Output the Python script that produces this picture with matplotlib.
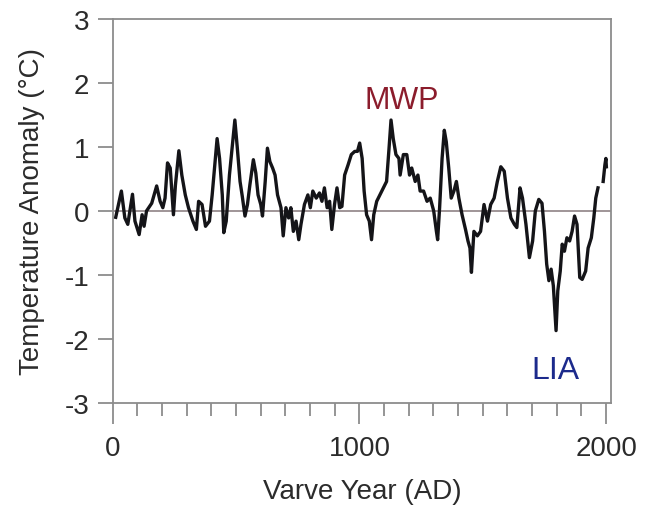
import matplotlib
matplotlib.use("Agg")
import matplotlib.pyplot as plt
import numpy as np

plt.rcParams['font.family'] = ['Liberation Sans', 'DejaVu Sans']
plt.rcParams['axes.unicode_minus'] = False

# varve temperature reconstruction
years = [12, 35, 49, 61, 80, 90, 107, 119, 127, 137, 158, 178, 192, 203, 212,
         222, 233, 246, 254, 268, 280, 294, 307, 325, 339, 348, 362, 376, 392,
         403, 423, 433, 444, 450, 460, 473, 485, 495, 505, 516, 525, 536, 546,
         556, 570, 580, 589, 600, 607, 618, 627, 637, 648, 658, 668, 682, 691,
         702, 713, 722, 732, 743, 754, 763, 777, 791, 801, 811, 825, 838, 848,
         858, 869, 879, 888, 899, 909, 920, 929, 940, 954, 967, 981, 992, 1001,
         1011, 1019, 1029, 1040, 1049, 1058, 1070, 1083, 1097, 1110, 1120, 1128,
         1137, 1148, 1160, 1165, 1178, 1192, 1203, 1212, 1226, 1237, 1246, 1260,
         1274, 1287, 1301, 1312, 1317, 1325, 1335, 1344, 1352, 1362, 1372, 1383,
         1393, 1403, 1416, 1430, 1440, 1448, 1454, 1464, 1478, 1491, 1505, 1519,
         1532, 1546, 1559, 1573, 1587, 1600, 1614, 1628, 1638, 1651, 1661, 1675,
         1689, 1702, 1713, 1727, 1740, 1750, 1759, 1768, 1777, 1786, 1797, 1804,
         1814, 1822, 1831, 1841, 1852, 1862, 1872, 1882, 1893, 1903, 1917, 1927,
         1940, 1950, 1958, 1967]
anomaly = [-0.1, 0.31, -0.11, -0.21, 0.26, -0.16, -0.37, -0.06, -0.24, 0.0,
           0.12, 0.39, 0.15, 0.05, 0.2, 0.75, 0.67, -0.06, 0.4, 0.94, 0.56,
           0.25, 0.05, -0.16, -0.29, 0.15, 0.1, -0.24, -0.16, 0.25, 1.13, 0.82,
           0.25, -0.34, -0.16, 0.56, 1.03, 1.42, 0.98, 0.46, 0.23, -0.08, 0.1,
           0.41, 0.8, 0.59, 0.25, 0.1, -0.08, 0.46, 0.98, 0.77, 0.67, 0.56, 0.25,
           0.05, -0.39, 0.05, -0.11, 0.05, -0.32, -0.16, -0.45, -0.21, 0.1, 0.25,
           0.05, 0.31, 0.2, 0.28, 0.15, 0.36, 0.05, 0.15, -0.29, 0.1, 0.36, 0.05,
           0.07, 0.56, 0.72, 0.88, 0.93, 0.93, 1.06, 0.82, 0.31, -0.06, -0.16,
           -0.45, -0.06, 0.15, 0.25, 0.36, 0.46, 0.98, 1.42, 1.13, 0.88, 0.82,
           0.56, 0.88, 0.88, 0.56, 0.67, 0.46, 0.56, 0.31, 0.31, 0.15, 0.2, 0.0,
           -0.32, -0.45, 0.05, 0.82, 1.26, 1.08, 0.67, 0.2, 0.31, 0.46, 0.2,
           -0.06, -0.29, -0.47, -0.58, -0.96, -0.32, -0.39, -0.32, 0.1, -0.16,
           0.1, 0.2, 0.46, 0.69, 0.62, 0.2, -0.11, -0.21, -0.26, 0.36, 0.2,
           -0.21, -0.73, -0.47, 0.0, 0.18, 0.12, -0.32, -0.83, -1.09, -0.91,
           -1.17, -1.87, -1.25, -0.94, -0.52, -0.63, -0.42, -0.47, -0.32, -0.08,
           -0.21, -1.04, -1.07, -0.94, -0.58, -0.42, -0.11, 0.2, 0.36]

# short recent piece after the gap
years_recent = [1988, 1995, 1999, 2001]
anomaly_recent = [0.46, 0.72, 0.82, 0.69]

fig = plt.figure(figsize=(6.48, 5.10), dpi=100)
ax = fig.add_axes([0.174, 0.208, 0.769, 0.753])

ax.axhline(0, color='#85787a', lw=1.1, zorder=1)
ax.plot(years, anomaly, color='#141418', lw=2.4, zorder=2)
ax.plot(years_recent, anomaly_recent, color='#141418', lw=2.4, zorder=2)

ax.set_xlim(0, 2020)
ax.set_ylim(-3, 3)
ax.set_xticks([0, 1000, 2000])
ax.set_xticks(np.arange(0, 2001, 100), minor=True)
ax.set_yticks(range(-3, 4))

for s in ax.spines.values():
    s.set_color('#8c8c8c')
    s.set_linewidth(1.3)
ax.tick_params(axis='x', which='major', length=15, width=1.3, color='#8c8c8c',
               labelsize=20, labelcolor='#2b2b2b', pad=8)
ax.tick_params(axis='x', which='minor', length=9, width=1.3, color='#8c8c8c')
ax.tick_params(axis='y', length=11, width=1.3, color='#8c8c8c',
               labelsize=20, labelcolor='#2b2b2b', pad=6)

ax.set_xlabel('Varve Year (AD)', fontsize=20, color='#2b2b2b', labelpad=12)
ax.set_ylabel('Temperature Anomaly (°C)', fontsize=20, color='#2b2b2b', labelpad=14)

ax.text(1171, 1.74, 'MWP', color='#8b1c2c', fontsize=22, ha='center', va='center')
ax.text(1796, -2.48, 'LIA', color='#1c2a8c', fontsize=23, ha='center', va='center')

plt.savefig('out.png', dpi=100)
